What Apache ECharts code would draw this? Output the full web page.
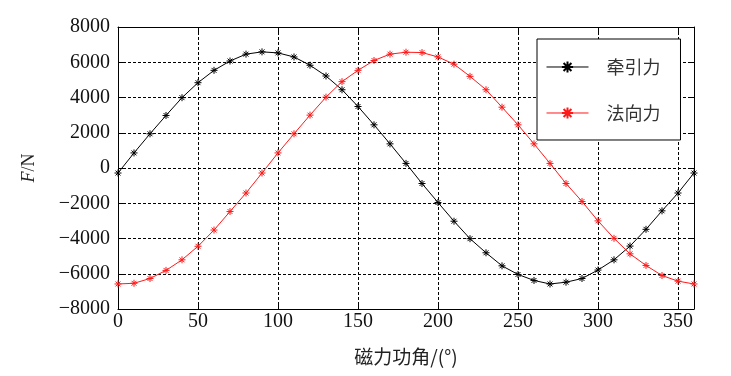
<!DOCTYPE html>
<html>
<head>
<meta charset="utf-8">
<script src="https://cdn.jsdelivr.net/npm/echarts@6/dist/echarts.min.js"></script>
<style>
  html, body { margin: 0; padding: 0; background: #fff; }
  #main { width: 731px; height: 376px; }
</style>
</head>
<body>
<div id="main"></div>
<script>
// angle in degrees, step 10
var angles = [0, 10, 20, 30, 40, 50, 60, 70, 80, 90, 100, 110, 120, 130, 140, 150, 160, 170, 180,
  190, 200, 210, 220, 230, 240, 250, 260, 270, 280, 290, 300, 310, 320, 330, 340, 350, 360];

// 牵引力 (N)
var traction = [-285, 855, 1940, 2980, 3990, 4840, 5540, 6070, 6460, 6590, 6530, 6300, 5830, 5220, 4440,
  3490, 2450, 1370, 260, -880, -1960, -3020, -4010, -4810, -5550, -6040, -6380, -6580, -6480, -6270,
  -5790, -5210, -4430, -3480, -2430, -1420, -285];

// 法向力 (N)
var normal = [-6580, -6540, -6270, -5810, -5210, -4440, -3520, -2470, -1420, -285, 855, 1940, 3000, 4020,
  4900, 5540, 6100, 6460, 6570, 6550, 6300, 5890, 5200, 4440, 3450, 2450, 1370, 260, -880, -1900,
  -3000, -3990, -4870, -5530, -6100, -6420, -6580];

var seriesNames = ['牵引力', '法向力'];

var serif = '"Liberation Serif", "Times New Roman", serif';
var cjk = '"Noto Sans CJK SC", sans-serif';
var star = 'path://M5,0 L5,10 M0,5 L10,5 M1.5,1.5 L8.5,8.5 M1.5,8.5 L8.5,1.5';

function pairs(ys) {
  return angles.map(function (a, i) { return [a, ys[i]]; });
}

var chart = echarts.init(document.getElementById('main'));

var dashed = { show: true, lineStyle: { color: '#000', type: [3, 2], width: 1 } };
var axLine = { show: true, onZero: false, lineStyle: { color: '#000', width: 1 } };
var inTicks = { show: true, inside: true, length: 5, lineStyle: { color: '#000' } };

chart.setOption({
  animation: false,
  backgroundColor: '#fff',
  grid: { left: 118, right: 37, top: 27, bottom: 67 },
  legend: {
    orient: 'vertical',
    left: 537,
    top: 39,
    backgroundColor: '#fff',
    borderColor: '#000',
    borderWidth: 1,
    borderRadius: 0,
    padding: [19, 20, 18, 9],
    itemWidth: 42,
    itemHeight: 14,
    itemGap: 28,
    lineStyle: { width: 1 },
    textStyle: { fontFamily: cjk, fontSize: 18, color: '#333', padding: [0, 0, 0, 13] },
    data: seriesNames
  },
  xAxis: [{
    type: 'value',
    min: 0, max: 360, interval: 50,
    name: '磁力功角/(°)',
    nameLocation: 'middle',
    nameGap: 38,
    nameTextStyle: { fontFamily: cjk, fontSize: 19, color: '#222' },
    axisLine: axLine,
    axisTick: inTicks,
    splitLine: dashed,
    axisLabel: { fontFamily: serif, fontSize: 20, color: '#111', margin: 3, showMaxLabel: false }
  }, {
    type: 'value', position: 'top',
    min: 0, max: 360, interval: 50,
    axisLine: axLine, axisTick: inTicks,
    axisLabel: { show: false }, splitLine: { show: false }
  }],
  yAxis: [{
    type: 'value',
    min: -8000, max: 8000, interval: 2000,
    name: '{i|F}/N',
    nameLocation: 'middle',
    nameGap: 80,
    nameTextStyle: {
      fontFamily: serif, fontSize: 18, color: '#222',
      rich: { i: { fontFamily: serif, fontSize: 18, fontStyle: 'italic', color: '#222' } }
    },
    axisLine: axLine,
    axisTick: inTicks,
    splitLine: dashed,
    axisLabel: {
      fontFamily: serif, fontSize: 20, color: '#111', margin: 8,
      formatter: function (v) { return String(v).replace('-', '\u2212'); }
    }
  }, {
    type: 'value', position: 'right',
    min: -8000, max: 8000, interval: 2000,
    axisLine: axLine, axisTick: inTicks,
    axisLabel: { show: false }, splitLine: { show: false }
  }],
  series: [{
    name: seriesNames[0],
    type: 'line',
    data: pairs(traction),
    symbol: star,
    symbolSize: 7,
    lineStyle: { color: '#000', width: 1 },
    itemStyle: { color: '#000', borderColor: '#000', borderWidth: 1 }
  }, {
    name: seriesNames[1],
    type: 'line',
    data: pairs(normal),
    symbol: star,
    symbolSize: 7,
    lineStyle: { color: '#ff1a1a', width: 1 },
    itemStyle: { color: '#ff1a1a', borderColor: '#ff1a1a', borderWidth: 1 }
  }]
});
</script>
</body>
</html>
